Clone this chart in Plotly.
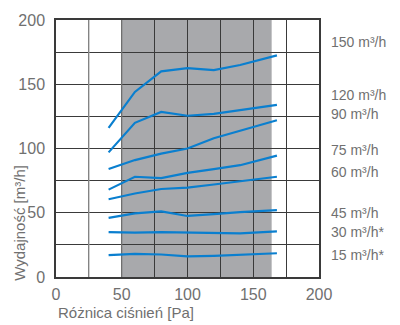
import plotly.graph_objects as go

x_pa = [40, 60, 80, 100, 120, 140, 168]
series = {
    "150 m³/h": [116, 144, 160, 162.5, 161, 165, 172.5],
    "120 m³/h": [97, 120, 128.5, 125.5, 127, 130, 134],
    "90 m³/h": [84, 91, 96, 100, 108, 114, 122],
    "75 m³/h": [68, 78, 77, 81, 84, 87, 94.5],
    "60 m³/h": [60.5, 65, 68.5, 69.5, 72, 74.5, 78],
    "45 m³/h": [46, 49.5, 51, 47.5, 49, 50.5, 52],
    "30 m³/h*": [35, 34.5, 35, 34.5, 34.5, 34, 35.5],
    "15 m³/h*": [17, 18, 17.5, 16, 16.5, 17.5, 18.5],
}
label_y = {
    "150 m³/h": 183, "120 m³/h": 142, "90 m³/h": 127, "75 m³/h": 99,
    "60 m³/h": 82, "45 m³/h": 50, "30 m³/h*": 35, "15 m³/h*": 17.3,
}
band = [50, 164]
ticks = [0, 50, 100, 150, 200]

FONT = "Liberation Sans"
GREY = "#707070"

fig = go.Figure()
for name, ys in series.items():
    fig.add_trace(go.Scatter(x=x_pa, y=ys, mode="lines", name=name,
                             line=dict(color="#0a7fcf", width=2.2), showlegend=False))
    fig.add_annotation(x=1.038, xref="paper", y=label_y[name], yref="y", text=name,
                       showarrow=False, xanchor="left", yanchor="middle",
                       font=dict(size=14, color=GREY, family=FONT))

fig.add_shape(type="rect", x0=band[0], x1=band[1], y0=0, y1=200, xref="x", yref="y",
              fillcolor="#a8a9ac", line=dict(width=0), layer="below")
fig.add_shape(type="line", x0=25, x1=25, y0=0, y1=200, xref="x", yref="y",
              line=dict(color="#a0a0a0", width=1.2), layer="between")
fig.add_shape(type="line", x0=50, x1=50, y0=0, y1=200, xref="x", yref="y",
              line=dict(color="#7a7a7a", width=1.2), layer="between")

fig.add_annotation(x=0, xref="paper", y=-0.138, yref="paper", text="Różnica ciśnień [Pa]",
                   showarrow=False, xanchor="left", yanchor="middle",
                   font=dict(size=15, color=GREY, family=FONT))
fig.add_annotation(x=-0.14, xref="paper", y=-0.022, yref="paper", text="Wydajność [m³/h]",
                   showarrow=False, xanchor="center", yanchor="bottom", textangle=-90,
                   font=dict(size=15, color=GREY, family=FONT))

axis_common = dict(showgrid=True, gridcolor="#3a3a3a", gridwidth=1, zeroline=False,
                   showline=True, linecolor="#3a3a3a", linewidth=1.5, mirror=True,
                   ticks="", tickfont=dict(size=16, color=GREY, family=FONT))
fig.update_xaxes(range=[0, 200], tickvals=ticks,
                 minor=dict(dtick=25, showgrid=True, gridcolor="#3a3a3a", gridwidth=1),
                 ticklabelstandoff=2, **axis_common)
fig.update_yaxes(range=[0, 200], tickvals=ticks,
                 minor=dict(dtick=25, showgrid=True, gridcolor="#3a3a3a", gridwidth=1),
                 ticklabelstandoff=6, **axis_common)

fig.update_layout(width=400, height=325, margin=dict(l=56, r=81, t=14, b=48),
                  plot_bgcolor="white", paper_bgcolor="white")
fig.write_html("out.html")
